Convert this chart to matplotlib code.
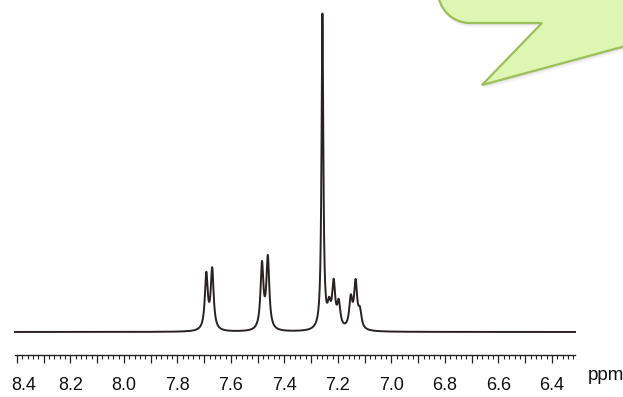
import numpy as np
import matplotlib
matplotlib.use("Agg")
import matplotlib.pyplot as plt
from matplotlib.path import Path
from matplotlib.patches import PathPatch
from matplotlib.transforms import Affine2D, blended_transform_factory, ScaledTranslation
from matplotlib.ticker import MultipleLocator

# 1H NMR signals: chemical shift (ppm), peak height, half width at half height (ppm)
shift_ppm = [7.692, 7.670, 7.484, 7.462, 7.258, 7.233, 7.216, 7.197, 7.152, 7.134, 7.118]
peak_height = [17.0, 18.5, 20.0, 22.0, 97.0, 6.0, 13.5, 7.5, 9.0, 14.0, 5.0]
half_width = [0.0065, 0.0065, 0.0065, 0.0065, 0.004, 0.007, 0.007, 0.007, 0.007, 0.007, 0.007]

tick_values = [8.4, 8.2, 8.0, 7.8, 7.6, 7.4, 7.2, 7.0, 6.8, 6.6, 6.4]
tick_labels = ["8.4", "8.2", "8.0", "7.8", "7.6", "7.4", "7.2", "7.0", "6.8", "6.6", "6.4"]
axis_unit = "ppm"

W, H = 623, 397
fig = plt.figure(figsize=(W / 100, H / 100), dpi=100)
fig.patch.set_facecolor("white")

# axes placed in pixel terms
left_px, right_px, top_px, bottom_px = 15, 575, 0, 355
ax = fig.add_axes([left_px / W, 1 - bottom_px / H,
                   (right_px - left_px) / W, (bottom_px - top_px) / H])
ax.set_facecolor("none")

ppm_left, ppm_right = 8.407, 6.314
ax.set_xlim(ppm_left, ppm_right)
ax.set_ylim(-7.08, 102.15)

# spectrum as a sum of Lorentzian lines
x = np.linspace(ppm_left, ppm_right, 6000)
y = np.zeros_like(x)
for c, h, g in zip(shift_ppm, peak_height, half_width):
    y += h / (1.0 + ((x - c) / g) ** 2)
ax.plot(x, y, color="#2a2222", lw=1.4, clip_on=False, solid_joinstyle="round")

for s in ("left", "right", "top"):
    ax.spines[s].set_visible(False)
ax.spines["bottom"].set_color("#222222")
ax.spines["bottom"].set_linewidth(1.0)
ax.set_yticks([])

ax.xaxis.set_major_locator(MultipleLocator(0.1))
ax.xaxis.set_minor_locator(MultipleLocator(0.02))
ax.tick_params(axis="x", which="major", length=5.5, width=0.9, color="#222222",
               labelbottom=False)
ax.tick_params(axis="x", which="minor", length=3.2, width=0.8, color="#222222")

label_font = ["Liberation Sans", "DejaVu Sans"]
trans = blended_transform_factory(ax.transData, fig.transFigure)
label_y = 1 - 386 / H
for i, (v, s) in enumerate(zip(tick_values, tick_labels)):
    t = trans
    if i == 0:
        # keep the first label clear of the axis end
        t = trans + ScaledTranslation(7 / 100, 0, fig.dpi_scale_trans)
    fig.text(v, label_y, s, transform=t, ha="center", va="center",
             fontsize=13, family=label_font, color="#111111")
fig.text(606 / W, 1 - 375 / H, axis_unit, ha="center", va="center",
         fontsize=13.5, family=label_font, color="#111111")

# callout shape in pixel coordinates (y downward)
px = Affine2D().scale(1 / W, -1 / H).translate(0, 1) + fig.transFigure
r = 32
k = 0.5523 * r
xl, yb = 438, 23
verts = [
    (xl, -60),
    (xl, yb - r),
    (xl, yb - r + k), (xl + r - k, yb), (xl + r, yb),
    (542, yb),
    (482, 85),
    (700, 25.8),
    (700, -60),
    (xl, -60),
]
codes = [Path.MOVETO, Path.LINETO,
         Path.CURVE4, Path.CURVE4, Path.CURVE4,
         Path.LINETO, Path.LINETO, Path.LINETO, Path.LINETO, Path.CLOSEPOLY]
shape = Path(verts, codes)

for dx, dy, a in [(1.5, 4.5, 0.06), (1.0, 3.0, 0.08), (0.5, 1.8, 0.10)]:
    sh = Affine2D().translate(dx, dy) + px
    fig.patches.append(PathPatch(shape, transform=sh, facecolor="#808080",
                                 edgecolor="none", alpha=a, zorder=5))
fig.patches.append(PathPatch(shape, transform=px, facecolor="#ddf7b3",
                             edgecolor="#9cbf5c", lw=1.6, zorder=6))

fig.savefig("out.png", dpi=100, facecolor="white")
